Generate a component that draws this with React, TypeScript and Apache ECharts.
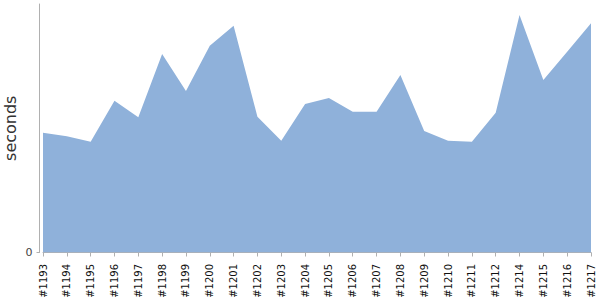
import React, { useEffect, useRef } from "react";
import * as echarts from "echarts";

const builds = [
  "#1193", "#1194", "#1195", "#1196", "#1197", "#1198", "#1199", "#1200",
  "#1201", "#1202", "#1203", "#1204", "#1205", "#1206", "#1207", "#1208",
  "#1209", "#1210", "#1211", "#1212", "#1214", "#1215", "#1216", "#1217",
];
const durations = [
  120.5, 117, 111.5, 152.7, 136, 199.7, 162.5, 208,
  228, 136.6, 112.5, 149.4, 155.4, 141.7, 141.7, 178.6,
  122.2, 112.5, 111.5, 140.7, 239, 173.5, 202, 230.6,
];
const yMax = 250;
const yLabelValues = [0];

export default function App() {
  const ref = useRef<HTMLDivElement>(null);
  useEffect(() => {
    if (!ref.current) return;
    const chart = echarts.init(ref.current, null, { renderer: "svg" });
    const font = "DejaVu Sans";
    chart.setOption({
      animation: false,
      grid: { left: 43, right: 9, top: 4, bottom: 47.5, containLabel: false, outerBoundsMode: "none" },
      xAxis: {
        type: "category",
        data: builds,
        boundaryGap: false,
        offset: 4.5,
        axisLine: { lineStyle: { color: "#b0b0b0", width: 1 } },
        axisTick: { show: true, length: 4, alignWithLabel: true, interval: 0, lineStyle: { color: "#b0b0b0" } },
        axisLabel: {
          rotate: 90,
          interval: 0,
          margin: 7,
          color: "#111",
          fontSize: 10,
          fontFamily: font,
        },
        splitLine: { show: false },
      },
      yAxis: {
        type: "value",
        min: 0,
        max: yMax,
        offset: 3.5,
        name: "seconds",
        nameLocation: "middle",
        nameRotate: 90,
        nameGap: 21,
        nameMoveOverlap: false,
        nameTextStyle: { color: "#333", fontSize: 16, fontFamily: font },
        axisLine: { show: true, lineStyle: { color: "#b0b0b0", width: 1 } },
        axisTick: { show: true, length: 3, customValues: yLabelValues, lineStyle: { color: "#b0b0b0" } },
        axisLabel: {
          customValues: yLabelValues,
          margin: 7,
          color: "#444",
          fontSize: 11,
          fontFamily: font,
        },
        splitLine: { show: false },
      },
      series: [
        {
          type: "line",
          data: durations,
          symbol: "none",
          lineStyle: { width: 0 },
          areaStyle: { color: "#8fb1da", opacity: 1 },
        },
      ],
    });
    return () => chart.dispose();
  }, []);
  return <div ref={ref} style={{ width: 600, height: 300, position: "absolute", left: 0, top: 0 }} />;
}
